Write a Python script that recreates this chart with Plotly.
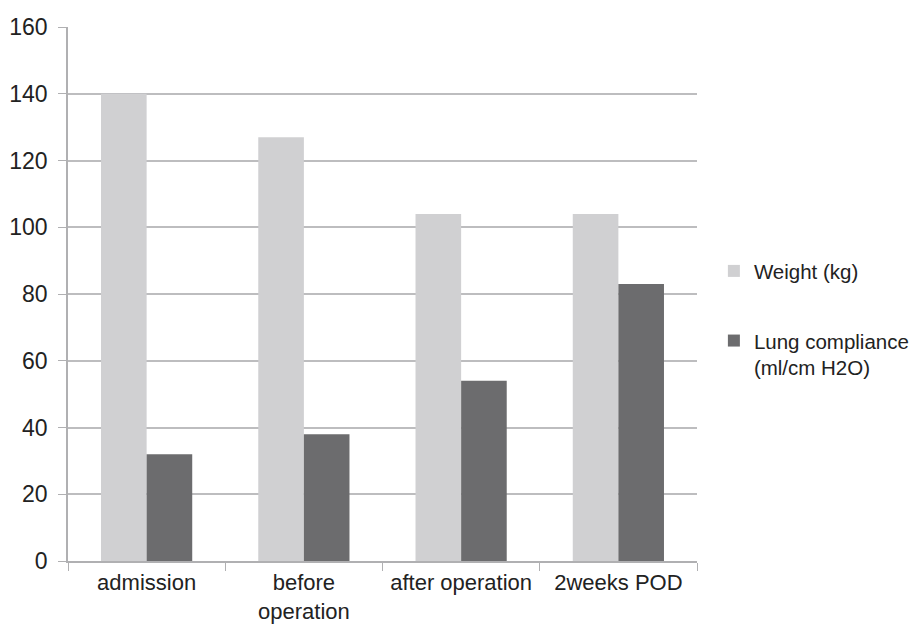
import plotly.graph_objects as go

categories = ["admission", "before<br>operation", "after operation", "2weeks POD"]
weight = [140, 127, 104, 104]
lung = [32, 38, 54, 83]
y_ticks = [0, 20, 40, 60, 80, 100, 120, 140, 160]

fig = go.Figure()
fig.add_trace(go.Bar(x=categories, y=weight, name="Weight (kg)",
                     marker=dict(color="#d0d0d2", line=dict(width=0)),
                     legendgroup="a"))
fig.add_trace(go.Bar(x=categories, y=lung, name="Lung compliance<br>(ml/cm H2O)",
                     marker=dict(color="#6c6c6e", line=dict(width=0)),
                     legendgroup="b"))

fig.update_layout(
    width=912, height=616,
    margin=dict(l=60, r=223, t=19, b=63),
    paper_bgcolor="white", plot_bgcolor="white",
    barmode="group", bargap=0.42, bargroupgap=0,
    font=dict(family="Liberation Sans, Arial, sans-serif", size=23, color="#222222"),
    legend=dict(xref="container", yref="container", x=0.774, xanchor="left",
                y=0.495, yanchor="middle",
                tracegroupgap=40, valign="top",
                font=dict(size=20.5, color="#222222")),
    showlegend=True,
)
fig.update_xaxes(type="category", showline=True, linecolor="#b0b0b2", linewidth=1.5,
                 ticks="outside", tickson="boundaries", ticklen=8, tickcolor="#b0b0b2",
                 showgrid=False, tickfont=dict(size=22), tickangle=0, automargin=False,
                 ticklabelstandoff=1)
fig.update_yaxes(range=[0, 160], tickvals=y_ticks, showline=True, linecolor="#b0b0b2",
                 linewidth=1.5, ticks="outside", ticklen=8, tickcolor="#b0b0b2",
                 showgrid=True, gridcolor="#bdbdbf", gridwidth=1.5, zeroline=False,
                 tickfont=dict(size=23), automargin=False, ticklabelstandoff=6)

fig.write_html("out.html")
